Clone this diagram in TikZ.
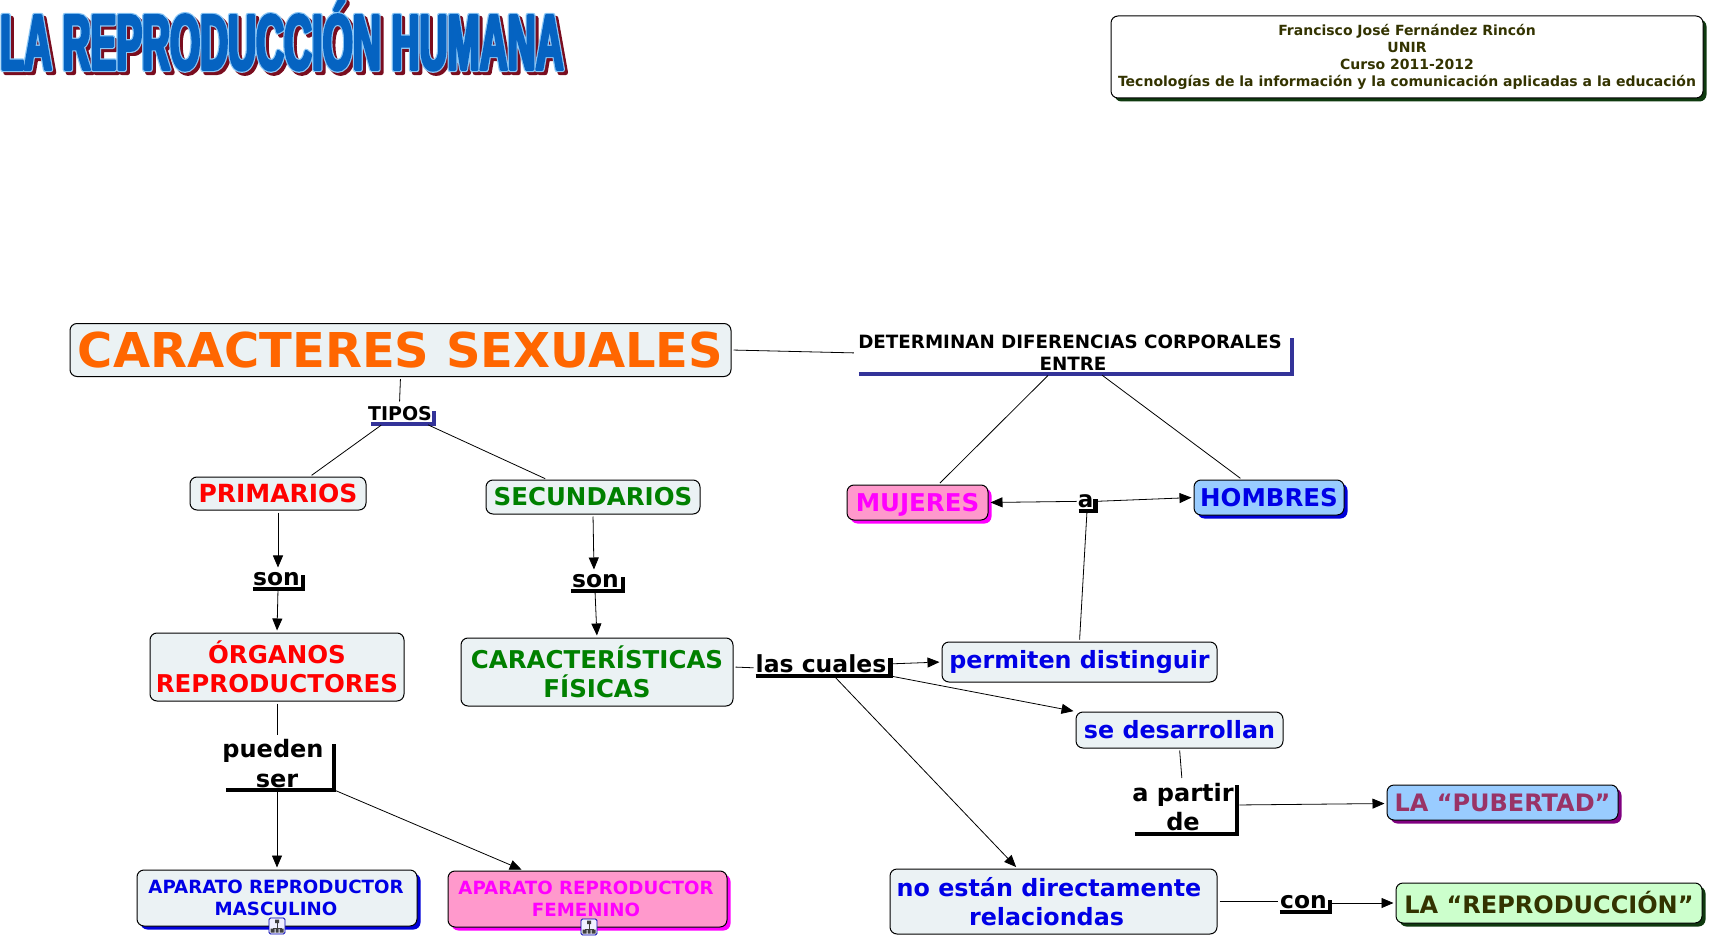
\documentclass[tikz,border=0pt]{standalone}
\usepackage{fontspec}
\usepackage{xcolor}
\setmainfont{DejaVu Sans}
\newfontfamily\titlefont[FakeStretch=0.49]{Liberation Sans Bold}
\usetikzlibrary{arrows.meta,shadows}

\definecolor{boxfill}{HTML}{EBF2F4}
\definecolor{rosefill}{HTML}{FF99CC}
\definecolor{skyfill}{HTML}{99CCFF}
\definecolor{mintfill}{HTML}{CCFFCC}
\definecolor{oliveink}{HTML}{333300}
\definecolor{darkleaf}{HTML}{0F3A0F}
\definecolor{navyline}{HTML}{333399}
\definecolor{plumink}{HTML}{993366}
\definecolor{plumedge}{HTML}{800080}
\definecolor{orangeink}{HTML}{FF6600}
\definecolor{leafink}{HTML}{008000}
\definecolor{pinkink}{HTML}{FF00FF}
\definecolor{blueink}{HTML}{0000E6}
\definecolor{titleblue}{HTML}{0563C1}
\definecolor{titlered}{HTML}{7A0C1E}

\newcommand{\sized}[2]{\fontsize{#1}{#2}\selectfont\bfseries}
\newcommand{\strokedtext}[3]{\special{pdf:code 2 Tr 1 j #1 w #2 RG}#3\special{pdf:code 0 Tr 0 j 1 w}}

\tikzset{
    concept/.style={draw=black, line width=1pt, rounded corners=7pt, fill=boxfill, inner sep=0pt, align=center},
    shade/.style={drop shadow={shadow xshift=3.5pt, shadow yshift=-3.5pt, fill=#1, opacity=1}},
    phrase/.style n args={2}{anchor=south, inner xsep=0pt, inner ysep=3pt, align=center, text depth=0pt,
        append after command={
            \pgfextra{\draw[#1, line width=4.2pt] (\tikzlastnode.south west) -- (\tikzlastnode.south east) -- ++(0,-#2);}
        }},
    link/.style={black, line width=0.8pt, shorten <=2pt, shorten >=2pt},
    linkto/.style={link, -{Triangle[length=12pt,width=10pt]}},
    treeicon/.pic={
        \draw[blue!70!black, fill=blue!6, rounded corners=1.5pt, line width=0.8pt] (-8,-8) rectangle (8,8);
        \draw[black!75, line width=0.6pt] (0,-3) -- (0,2) (-4,2) -- (4,2) (-4,2) -- (-4,3) (4,2) -- (4,3);
        \fill[black!75] (-2,-6.5) rectangle (2,-3) (-6.5,2.5) rectangle (-2.5,6.5) (-1.5,2.5) rectangle (1.5,6.5) (2.5,2.5) rectangle (6.5,6.5);
    }
}

\begin{document}
\begin{tikzpicture}[x=1pt, y=-1pt]
\useasboundingbox (0,0) rectangle (1709,939);

% title
\node (titleback) [anchor=west, inner sep=0pt] at (3,38) {\titlefont\fontsize{79}{79}\selectfont\color{titlered}\strokedtext{5}{0.48 0.05 0.12}{LA REPRODUCCIÓN HUMANA}};
\node (titleedge) [anchor=west, inner sep=0pt] at (0,35) {\titlefont\fontsize{79}{79}\selectfont\color{titleblue}\strokedtext{5}{0.55 0.78 0.96}{LA REPRODUCCIÓN HUMANA}};
\node (titleface) [anchor=west, inner sep=0pt] at (0,35) {\titlefont\fontsize{79}{79}\selectfont\color{titleblue}\strokedtext{2.6}{0.02 0.39 0.76}{LA REPRODUCCIÓN HUMANA}};

% author box
\node (author) [concept, fill=white, shade=darkleaf, text=oliveink, minimum width=592pt, minimum height=82pt, font=\sized{14}{17}] at (1407,57)
    {Francisco José Fernández Rincón\\UNIR\\Curso 2011-2012\\Tecnologías de la información y la comunicación aplicadas a la educación};

% concepts
\node (sexual) [concept, text=orangeink, minimum width=661pt, minimum height=53pt, font=\sized{48}{56}] at (400.5,350) {CARACTERES SEXUALES};
\node (primary) [concept, text=red, minimum width=176pt, minimum height=33pt, font=\sized{25}{29}] at (278,493.5) {PRIMARIOS};
\node (second) [concept, text=leafink, minimum width=214pt, minimum height=34pt, font=\sized{24.5}{29}] at (593,497) {SECUNDARIOS};
\node (organs) [concept, text=red, minimum width=254pt, minimum height=68pt, font=\sized{24.5}{29.4}] at (277,667) {ÓRGANOS\\REPRODUCTORES};
\node (traits) [concept, text=leafink, minimum width=272pt, minimum height=68pt, font=\sized{24.5}{29.4}] at (597,672) {CARACTERÍSTICAS\\FÍSICAS};
\node (male) [concept, shade=blue!85!black, text=blueink, minimum width=280pt, minimum height=56pt, font=\sized{18.2}{22}] at (277,898) {APARATO REPRODUCTOR\hspace*{2pt}\\MASCULINO\hspace*{2pt}};
\node (female) [concept, fill=rosefill, shade=pinkink, text=pinkink, minimum width=279pt, minimum height=56pt, font=\sized{18.2}{22}] at (587.5,899) {APARATO REPRODUCTOR\hspace*{3pt}\\FEMENINO\hspace*{3pt}};
\node (women) [concept, fill=rosefill, shade=pinkink, text=pinkink, minimum width=141pt, minimum height=35pt, text depth=0pt, font=\sized{24.5}{29}] at (917.5,502.5) {MUJERES};
\node (men) [concept, fill=skyfill, shade=blue!85!black, text=blueink, minimum width=150pt, minimum height=35pt, font=\sized{24.5}{29}] at (1269,497.5) {HOMBRES};
\node (tell) [concept, text=blueink, minimum width=275pt, minimum height=40pt, font=\sized{23.8}{29}] at (1079.5,662) {permiten distinguir};
\node (grow) [concept, text=blueink, minimum width=207pt, minimum height=36pt, font=\sized{23.8}{29}] at (1179.5,730) {se desarrollan};
\node (puberty) [concept, fill=skyfill, shade=plumedge, text=plumink, minimum width=231pt, minimum height=35pt, font=\sized{24}{29}] at (1502.5,802.5) {LA “PUBERTAD”};
\node (notrel) [concept, text=blueink, minimum width=327pt, minimum height=65pt, font=\sized{23.8}{29.4}] at (1053.5,901.5) {no están directamente\hspace*{9pt}\\relaciondas\hspace*{14pt}};
\node (repro) [concept, fill=mintfill, shade=darkleaf, text=oliveink, minimum width=306pt, minimum height=40pt, font=\sized{24}{29}] at (1549,903) {LA “REPRODUCCIÓN”};

% linking phrases
\node (kinds) [phrase={navyline}{13}, inner xsep=-3pt, minimum width=63pt, font=\sized{19}{23}] at (402.5,424) {TIPOS\hspace*{5pt}};
\node (are1) [phrase={black}{14}, minimum width=50pt, font=\sized{23.4}{27}] at (278,589) {son\hspace*{3pt}};
\node (are2) [phrase={black}{14}, minimum width=51pt, font=\sized{23.4}{27}] at (597,591) {son\hspace*{3pt}};
\node (can) [phrase={black}{46}, inner xsep=-3.5pt, inner ysep=2.5pt, minimum width=107pt, font=\sized{24}{29.4}] at (280,790) {pueden\hspace*{14pt}\\ser\hspace*{6pt}};
\node (which) [phrase={black}{18}, minimum width=134pt, font=\sized{23.5}{29}] at (823,676) {las cuales\hspace*{4pt}};
\node (differ) [phrase={navyline}{36}, inner xsep=-1pt, minimum width=433pt, font=\sized{18.3}{22}] at (1075.5,374) {DETERMINAN DIFERENCIAS CORPORALES\hspace*{11pt}\\ENTRE\hspace*{5pt}};
\node (toboth) [phrase={black}{12}, inner xsep=-1pt, minimum width=16pt, font=\sized{23}{27}] at (1087,511) {a\hspace*{3pt}};
\node (from) [phrase={black}{49}, inner xsep=-2.5pt, minimum width=101pt, font=\sized{24}{29.4}] at (1186,834) {a partir\hspace*{6pt}\\de\hspace*{6pt}};
\node (with) [phrase={black}{12}, minimum width=50pt, font=\sized{23.4}{27}] at (1305,912) {con\hspace*{3pt}};

% tree icons on the two bottom boxes
\pic (iconm) at (277,926) {treeicon};
\pic (iconf) at (589,927) {treeicon};

% connectors
\draw[link, shorten >=5pt] (sexual.east) -- (differ.west);
\draw[link] (sexual.south) -- ([xshift=-3pt]kinds.north);
\draw[link] ([xshift=12pt]kinds.south west) -- ([xshift=32pt]primary.north);
\draw[link] ([xshift=-8pt]kinds.south east) -- ([xshift=-46pt]second.north);
\draw[linkto] (primary.south) -- (are1.north);
\draw[linkto] (are1.south) -- (organs.north);
\draw[linkto] (second.south) -- ([xshift=-3pt]are2.north);
\draw[linkto] ([xshift=-2pt]are2.south) -- (traits.north);
\draw[link] (organs.south) -- ([xshift=-3pt]can.north);
\draw[linkto] ([xshift=-3pt]can.south) -- (male.north);
\draw[linkto] (can.south east) -- ([xshift=-64pt]female.north);
\draw[link] ([yshift=5pt]traits.east) -- ([yshift=-4pt]which.west);
\draw[linkto] (which.east) -- (tell.west);
\draw[linkto] (which.south east) -- (grow.north west);
\draw[linkto] ([xshift=11pt]which.south) -- ([xshift=-36pt]notrel.north);
\draw[link] ([xshift=-26pt]differ.south) -- ([xshift=21pt]women.north);
\draw[link] ([xshift=25pt]differ.south) -- ([xshift=-27pt]men.north);
\draw[linkto] (toboth.west) -- (women.east);
\draw[linkto] (toboth.east) -- (men.west);
\draw[link] (tell.north) -- (toboth.south);
\draw[link] (grow.south) -- ([xshift=-4pt]from.north);
\draw[linkto] ([yshift=2pt]from.east) -- ([yshift=-1pt]puberty.west);
\draw[link] (notrel.east) -- (with.west |- notrel.east);
\draw[linkto] (with.east |- repro.west) -- (repro.west);

\end{tikzpicture}
\end{document}
